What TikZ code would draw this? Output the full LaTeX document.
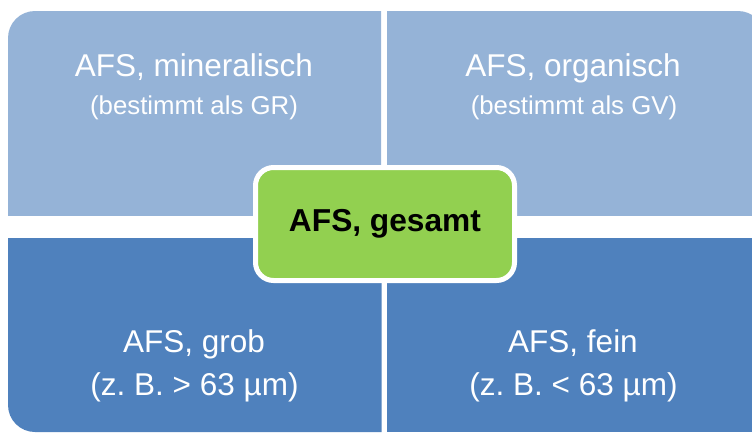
\documentclass[tikz,border=0pt]{standalone}
\usepackage{fontspec}
\setmainfont{Liberation Sans}
\definecolor{lightq}{HTML}{95B3D7}
\definecolor{darkq}{HTML}{4F81BD}
\definecolor{greenc}{HTML}{92D050}
\frenchspacing
\begin{document}
\begin{tikzpicture}[x=1pt,y=-1pt,
  titletxt/.style={text=white, font=\fontsize{31.5}{36}\selectfont, anchor=base, inner sep=0pt},
  subtxt/.style={text=white, font=\fontsize{25.8}{30}\selectfont, anchor=base, inner sep=0pt},
  centerbox/.style={draw=white, line width=5pt, fill=greenc, rounded corners=18pt,
    minimum width=259pt, minimum height=113pt, inner sep=0pt,
    font=\fontsize{31.7}{36}\selectfont\bfseries, text=black}
]
\useasboundingbox (0,0) rectangle (752,432);
% top-left quadrant
\begin{scope}
  \clip (8,11) rectangle (381,215);
  \fill[lightq, rounded corners=27pt] (8,11) rectangle (460,300);
\end{scope}
% top-right quadrant
\begin{scope}
  \clip (387,11) rectangle (752,215);
  \fill[lightq, rounded corners=27pt] (300,11) rectangle (765,300);
\end{scope}
% bottom-left quadrant
\begin{scope}
  \clip (8,238) rectangle (381.5,432);
  \fill[darkq, rounded corners=27pt] (8,150) rectangle (460,432);
\end{scope}
% bottom-right quadrant
\begin{scope}
  \clip (386.5,238) rectangle (752,432);
  \fill[darkq] (386.5,238) rectangle (752,432);
\end{scope}
% texts
\node[titletxt] (tl1) at (194,76) {AFS, mineralisch};
\node[subtxt] (tl2) at (194,114) {(bestimmt als GR)};
\node[titletxt] (tr1) at (573,76) {AFS, organisch};
\node[subtxt] (tr2) at (574,114) {(bestimmt als GV)};
\node[titletxt] (bl1) at (194,352) {AFS, grob};
\node[titletxt] (bl2) at (194.5,395) {(z. B. > 63 µm)};
\node[titletxt] (br1) at (573,352) {AFS, fein};
\node[titletxt] (br2) at (573.5,395) {(z. B. < 63 µm)};
% center
\node[centerbox] (center) at (385,224) {AFS, gesamt};
\end{tikzpicture}
\end{document}
